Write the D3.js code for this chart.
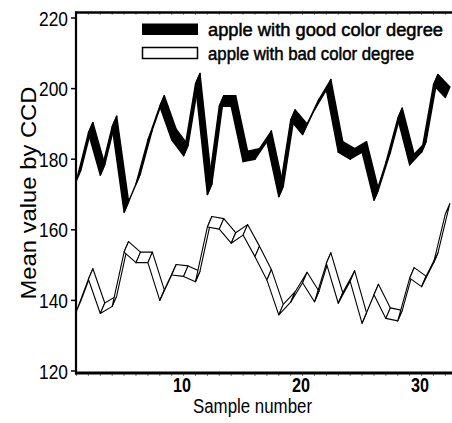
<!DOCTYPE html>
<html>
<head>
<meta charset="utf-8">
<script src="https://cdn.jsdelivr.net/npm/d3@7"></script>
<style>
  body { margin: 0; background: #fff; }
  svg { display: block; font-family: "Liberation Sans", Arial, sans-serif; }
</style>
</head>
<body>
<div class="chart"></div>
<script>
var width = 452;
var height = 423;

// sample numbers on x
var samples = [1,2,3,4,5,6,7,8,9,10,11,12,13,14,15,16,17,18,19,20,21,22,23,24,25,26,27,28,29,30,31,32];
// mean value by CCD
var good = [174,187.4,175.5,189.2,165,173,185.4,195,185.5,181,201.3,170,195,195,179.3,180,
            185,169.4,191,187,194,199.6,182,180,182,168.4,179,191.5,178.4,182,201,197.5];
var bad  = [137,146,136.3,138.3,153.7,150.7,150.7,140,147.2,146.8,145.3,160.8,160.2,156.2,158.5,152.4,
            145.8,135.9,139.5,145,139.6,150.5,139.2,145.4,133.5,141.6,134.9,134.2,146.3,143.9,150.5,164.5];
var yTicks = [120,140,160,180,200,220];
var xTicks = [10,20,30];
var legendLabels = ['apple with good color degree', 'apple with bad color degree'];

var margin = {top: 12, left: 76.5};
var depth = {dx: 4.5, dy: -10.5};   // ribbon depth in px

var svg = d3.select('div.chart').append('svg')
    .attr('width', width)
    .attr('height', height);

var x_scale = d3.scaleLinear()
    .domain([1, 32.6])
    .range([margin.left, 452.5]);
var y_scale = d3.scaleLinear()
    .domain([120, 220])
    .range([371, 18]);

svg.append('clipPath').attr('id', 'plot')
    .append('rect')
    .attr('x', 76).attr('y', margin.top)
    .attr('width', width - 76).attr('height', 361);

function quads(values){
    var out = [];
    for (var i = 0; i < values.length - 1; i++){
        var x0 = x_scale(samples[i]), x1 = x_scale(samples[i+1]);
        var y0 = y_scale(values[i]), y1 = y_scale(values[i+1]);
        out.push([[x0, y0], [x1, y1], [x1 + depth.dx, y1 + depth.dy], [x0 + depth.dx, y0 + depth.dy]]);
    }
    return out;
}

var plot = svg.append('g').attr('clip-path', 'url(#plot)');

plot.append('g').attr('class', 'good')
    .selectAll('polygon')
    .data(quads(good))
    .enter()
    .append('polygon')
    .attr('points', function(d){ return d.join(' '); })
    .attr('fill', '#000')
    .attr('stroke', '#000')
    .attr('stroke-width', 1.4)
    .attr('stroke-linejoin', 'round');

plot.append('g').attr('class', 'bad')
    .selectAll('polygon')
    .data(quads(bad))
    .enter()
    .append('polygon')
    .attr('points', function(d){ return d.join(' '); })
    .attr('fill', '#fff')
    .attr('stroke', '#000')
    .attr('stroke-width', 1.1)
    .attr('stroke-linejoin', 'round');

// minor ticks along bottom and top
svg.append('g')
    .selectAll('line')
    .data(samples)
    .enter()
    .append('line')
    .attr('x1', function(d){ return x_scale(d); })
    .attr('x2', function(d){ return x_scale(d); })
    .attr('y1', 374).attr('y2', 376)
    .attr('stroke', '#777').attr('stroke-width', 1);
svg.append('g')
    .selectAll('line')
    .data(samples)
    .enter()
    .append('line')
    .attr('x1', function(d){ return x_scale(d); })
    .attr('x2', function(d){ return x_scale(d); })
    .attr('y1', 13).attr('y2', 15)
    .attr('stroke', '#999').attr('stroke-width', 1);

// frame
svg.append('line')
    .attr('x1', 75).attr('x2', width)
    .attr('y1', 12.5).attr('y2', 12.5)
    .attr('stroke', '#000').attr('stroke-width', 2.5);
svg.append('line')
    .attr('x1', 76).attr('x2', 76)
    .attr('y1', 11.5).attr('y2', 374.5)
    .attr('stroke', '#000').attr('stroke-width', 2.2);
svg.append('line')
    .attr('x1', 75).attr('x2', width)
    .attr('y1', 373).attr('y2', 373)
    .attr('stroke', '#000').attr('stroke-width', 3);

// y ticks
var yg = svg.append('g').attr('class', 'y-axis');
yg.selectAll('line')
    .data(yTicks)
    .enter()
    .append('line')
    .attr('x1', 71).attr('x2', 76)
    .attr('y1', function(d){ return y_scale(d); })
    .attr('y2', function(d){ return y_scale(d); })
    .attr('stroke', '#000').attr('stroke-width', 1.5);
yg.selectAll('text')
    .data(yTicks)
    .enter()
    .append('text')
    .attr('x', 68)
    .attr('y', function(d){ return y_scale(d) + 7.5; })
    .attr('text-anchor', 'end')
    .attr('textLength', 29)
    .attr('lengthAdjust', 'spacingAndGlyphs')
    .style('font-size', '21px')
    .text(function(d){ return d; });

// x ticks
svg.append('g').attr('class', 'x-axis')
    .selectAll('text')
    .data(xTicks)
    .enter()
    .append('text')
    .attr('x', function(d){ return x_scale(d) - 1.5; })
    .attr('y', 392)
    .attr('text-anchor', 'middle')
    .attr('textLength', 18)
    .attr('lengthAdjust', 'spacingAndGlyphs')
    .style('font-size', '21px')
    .style('font-weight', 'bold')
    .text(function(d){ return d; });

// axis titles
svg.append('text')
    .attr('x', 252.5)
    .attr('y', 413)
    .attr('text-anchor', 'middle')
    .attr('textLength', 119)
    .attr('lengthAdjust', 'spacingAndGlyphs')
    .style('font-size', '19.5px')
    .text('Sample number');
svg.append('text')
    .attr('transform', 'translate(36,193) rotate(-90)')
    .attr('text-anchor', 'middle')
    .attr('textLength', 213)
    .attr('lengthAdjust', 'spacingAndGlyphs')
    .style('font-size', '22px')
    .text('Mean value by CCD');

// legend
var legend = svg.append('g').attr('class', 'legend');
legend.append('rect')
    .attr('x', 142).attr('y', 23.5)
    .attr('width', 56).attr('height', 11.5)
    .attr('fill', '#000');
legend.append('rect')
    .attr('x', 142.5).attr('y', 47.5)
    .attr('width', 55).attr('height', 11)
    .attr('fill', '#fff')
    .attr('stroke', '#000').attr('stroke-width', 1.5);
legend.selectAll('text')
    .data(legendLabels)
    .enter()
    .append('text')
    .attr('x', 208)
    .attr('y', function(d, i){ return 36 + i * 24; })
    .attr('textLength', function(d, i){ return i == 0 ? 235 : 206; })
    .attr('lengthAdjust', 'spacingAndGlyphs')
    .style('font-size', '18px')
    .style('stroke', '#000')
    .style('stroke-width', 0.5)
    .text(function(d){ return d; });
</script>
</body>
</html>
